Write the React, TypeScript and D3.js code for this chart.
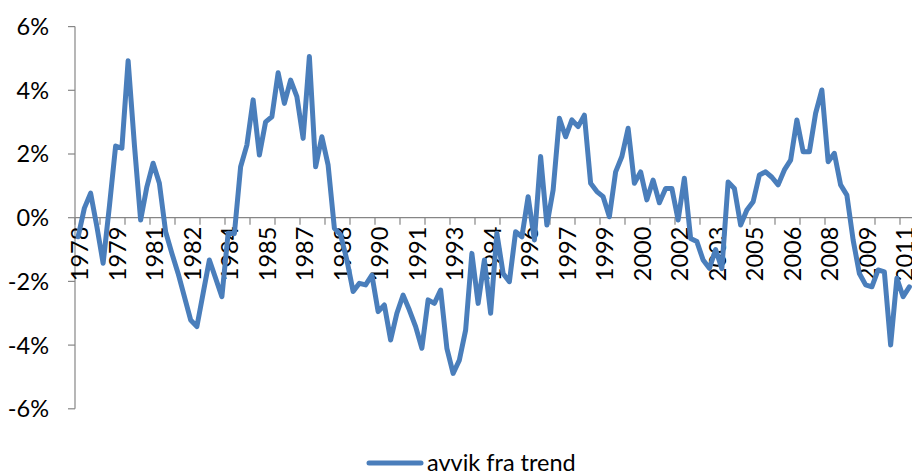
import React from "react";
import * as d3 from "d3";

const values: number[] = [
  -0.6, 0.3, 0.77, -0.28, -1.43, 0.35, 2.25, 2.18, 4.93, 2.3,
  -0.07, 0.97, 1.71, 1.08, -0.44, -1.12, -1.75, -2.48, -3.21, -3.42,
  -2.37, -1.33, -1.9, -2.48, -0.49, -0.5, 1.6, 2.28, 3.7, 1.97,
  3.01, 3.17, 4.55, 3.59, 4.32, 3.8, 2.49, 5.06, 1.6, 2.54,
  1.65, -0.33, -0.54, -1.33, -2.32, -2.06, -2.11, -1.8, -2.95, -2.74,
  -3.84, -3.0, -2.43, -2.9, -3.42, -4.1, -2.58, -2.69, -2.27, -4.1,
  -4.89, -4.47, -3.53, -1.12, -2.69, -1.33, -3.0, -0.49, -1.75, -2.01,
  -0.44, -0.6, 0.66, -0.7, 1.92, -0.23, 0.87, 3.12, 2.54, 3.07,
  2.86, 3.22, 1.08, 0.82, 0.66, 0.03, 1.44, 1.92, 2.81, 1.08,
  1.44, 0.56, 1.18, 0.47, 0.92, 0.92, -0.07, 1.24, -0.65, -0.75,
  -1.33, -1.59, -1.0, -1.6, 1.12, 0.92, -0.23, 0.24, 0.5, 1.34,
  1.44, 1.27, 1.03, 1.5, 1.81, 3.07, 2.07, 2.07, 3.28, 4.01,
  1.76, 2.02, 1.03, 0.71, -0.7, -1.75, -2.11, -2.17, -1.64, -1.7,
  -4.0, -1.9, -2.48, -2.17,
];

const xTickLabels: string[] = [
  "1978", "1979", "1981", "1982", "1984", "1985", "1987", "1988",
  "1990", "1991", "1993", "1994", "1996", "1997", "1999", "2000",
  "2002", "2003", "2005", "2006", "2008", "2009", "2011",
];
const labelEvery = 6;
const tickEvery = 4;
const yTicks: number[] = [-6, -4, -2, 0, 2, 4, 6];
const seriesName = "avvik fra trend";

const W = 912;
const H = 472;
const left = 75;
const right = 912.5;
const top = 26.6;
const bottom = 408.8;
const FONT = "Lato, 'Open Sans', sans-serif";
const BLUE = "#4a7ebb";
const GRAY = "#868686";

export default function App() {
  const idx = values.map((_, i) => i);
  const x = d3.scaleBand<number>().domain(idx).range([left, right]).padding(0);
  const bw = x.bandwidth();
  const cx = (i: number) => (x(i) as number) + bw / 2;
  const y = d3.scaleLinear().domain([-6, 6]).range([bottom, top]);
  const y0 = y(0);

  const line = d3
    .line<number>()
    .x((_, i) => cx(i))
    .y((d) => y(d));

  const tickIdx = idx.filter((i) => i % tickEvery === 0);

  return (
    <svg
      width={W}
      height={H}
      style={{ position: "absolute", left: 0, top: 0, background: "#fff" }}
    >
      {/* y axis */}
      <line x1={left} x2={left} y1={top} y2={bottom} stroke={GRAY} strokeWidth={1.2} />
      {yTicks.map((t) => (
        <g key={t}>
          <line x1={left - 7} x2={left} y1={y(t)} y2={y(t)} stroke={GRAY} strokeWidth={1.2} />
          <text
            x={49}
            y={y(t)}
            dy="0.36em"
            textAnchor="end"
            fontFamily={FONT}
            fontSize={23.5}
            fill="#000"
          >
            {t + "%"}
          </text>
        </g>
      ))}
      {/* x axis at zero */}
      <line x1={left} x2={right} y1={y0} y2={y0} stroke={GRAY} strokeWidth={1.2} />
      {tickIdx.map((i) => (
        <line
          key={i}
          x1={x(i) as number}
          x2={x(i) as number}
          y1={y0}
          y2={y0 + 7}
          stroke={GRAY}
          strokeWidth={1.2}
        />
      ))}
      {xTickLabels.map((lab, k) => {
        const i = k * labelEvery;
        return (
          <text
            key={lab + k}
            transform={`translate(${cx(i) + 1.5},${y0 + 9}) rotate(-90)`}
            dy="0.36em"
            textAnchor="end"
            fontFamily={FONT}
            fontSize={23.5}
            fill="#000"
          >
            {lab}
          </text>
        );
      })}
      {/* series */}
      <path
        d={line(values) || ""}
        fill="none"
        stroke={BLUE}
        strokeWidth={5}
        strokeLinejoin="round"
        strokeLinecap="round"
      />
      {/* legend */}
      <line x1={369} x2={421} y1={463} y2={463} stroke={BLUE} strokeWidth={5} strokeLinecap="round" />
      <text x={427} y={463} dy="0.36em" fontFamily={FONT} fontSize={23.5} fill="#000">
        {seriesName}
      </text>
    </svg>
  );
}
